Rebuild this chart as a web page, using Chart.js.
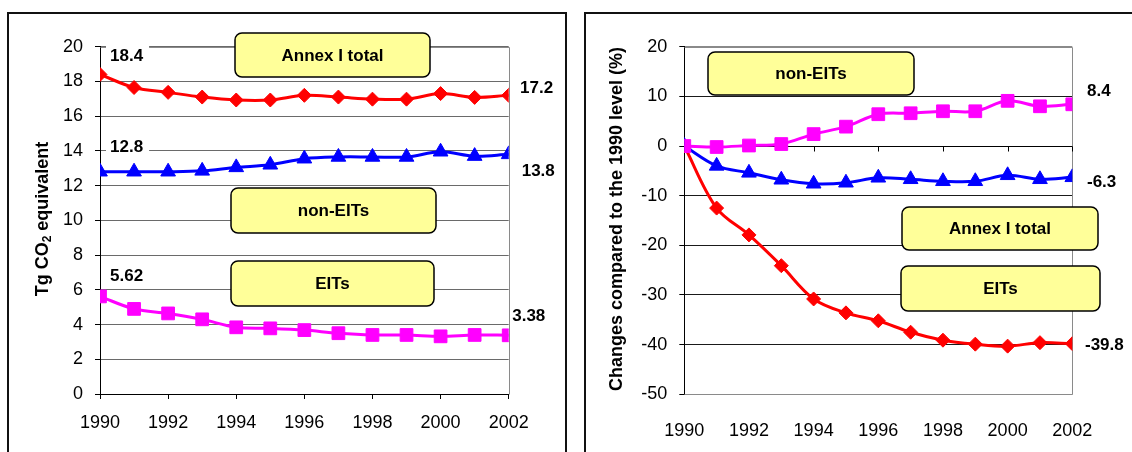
<!DOCTYPE html>
<html>
<head>
<meta charset="utf-8">
<script src="https://cdn.jsdelivr.net/npm/chart.js@4.4.0/dist/chart.umd.min.js"></script>
<style>
  html, body { margin: 0; padding: 0; background: #fff; overflow: hidden; width: 1132px; height: 452px; }
  #wrap { position: relative; width: 1132px; height: 452px; }
  canvas { position: absolute; top: 0; }
  #absChart { left: 0; }
  #relChart { left: 575px; }
  .frame { position: absolute; border: 2px solid #111; box-sizing: border-box; pointer-events: none; }
</style>
</head>
<body>
<div id="wrap">
  <canvas id="absChart" width="575" height="452" style="width:575px;height:452px"></canvas>
  <canvas id="relChart" width="557" height="452" style="width:557px;height:452px"></canvas>
  <div class="frame" style="left:7px;top:12px;width:560px;height:470px"></div>
  <div class="frame" style="left:584px;top:12px;width:600px;height:470px"></div>
</div>
<script>
// Years on the horizontal axis
const years = [1990, 1991, 1992, 1993, 1994, 1995, 1996, 1997, 1998, 1999, 2000, 2001, 2002];

// Emissions, Tg CO2 equivalent
const annexTotalTg = [18.4, 17.65, 17.37, 17.1, 16.93, 16.93, 17.2, 17.1, 16.98, 16.98, 17.3, 17.08, 17.2];
const nonEitTg     = [12.8, 12.8, 12.8, 12.85, 13.05, 13.2, 13.55, 13.65, 13.65, 13.65, 13.95, 13.7, 13.8];
const eitTg        = [5.62, 4.9, 4.64, 4.3, 3.84, 3.78, 3.68, 3.5, 3.4, 3.4, 3.32, 3.4, 3.38];

// Changes compared to 1990, %
const nonEitPct     = [0, -0.2, 0.1, 0.4, 2.4, 3.9, 6.4, 6.6, 7.0, 7.0, 9.1, 8.0, 8.4];
const annexTotalPct = [0, -4.0, -5.4, -6.8, -7.6, -7.4, -6.4, -6.7, -7.1, -7.1, -5.9, -6.7, -6.3];
const eitPct        = [0, -12.5, -17.9, -24.1, -30.8, -33.6, -35.2, -37.5, -39.1, -39.9, -40.3, -39.6, -39.8];

// Series names shown in the callout boxes
const seriesNames = { annex: 'Annex I total', nonEit: 'non-EITs', eit: 'EITs' };

const FONT = '"Liberation Sans", Arial, sans-serif';
const RED = '#ff0000', BLUE = '#0000ff', MAGENTA = '#ff00ff';

const toPoints = vals => vals.map((v, i) => ({ x: years[i], y: v }));

function lineSet(label, vals, color, style, radius) {
  return {
    label, data: toPoints(vals),
    borderColor: color, backgroundColor: color,
    borderWidth: 3, tension: 0.35,
    pointStyle: style, pointRadius: radius, pointHoverRadius: radius,
    pointBackgroundColor: color, pointBorderColor: color, pointBorderWidth: 1
  };
}

function roundRect(ctx, x, y, w, h, r) {
  ctx.beginPath();
  ctx.moveTo(x + r, y);
  ctx.arcTo(x + w, y, x + w, y + h, r);
  ctx.arcTo(x + w, y + h, x, y + h, r);
  ctx.arcTo(x, y + h, x, y, r);
  ctx.arcTo(x, y, x + w, y, r);
  ctx.closePath();
}

// Grey plot-area frame, yellow callouts and end-point value labels
const decorations = {
  id: 'decorations',
  beforeDatasetsDraw(chart, args, opts) {
    const ctx = chart.ctx, a = chart.chartArea;
    ctx.save();
    // frame on the open sides of the plot area
    ctx.strokeStyle = '#8a8a8a';
    ctx.lineWidth = 1;
    ctx.beginPath();
    const L = Math.round(a.left) + 0.5, R = Math.round(a.right) + 0.5;
    const T = Math.round(a.top) + 0.5, B = Math.round(a.bottom) + 0.5;
    ctx.moveTo(L, T); ctx.lineTo(R, T); ctx.lineTo(R, B);
    if (opts.frameBottom) ctx.lineTo(L, B);
    ctx.stroke();

    // zero line with year ticks
    if (opts.zeroAxis) {
      const y0 = Math.round(chart.scales.y.getPixelForValue(0)) + 0.5;
      ctx.strokeStyle = '#000';
      ctx.beginPath();
      ctx.moveTo(a.left, y0); ctx.lineTo(a.right, y0);
      chart.scales.x.ticks.forEach(t => {
        const x = Math.round(chart.scales.x.getPixelForValue(t.value)) + 0.5;
        ctx.moveTo(x, y0); ctx.lineTo(x, y0 + 5);
      });
      ctx.stroke();
    }

    // value labels
    ctx.font = 'bold 17px ' + FONT;
    ctx.textBaseline = 'middle';
    ctx.textAlign = 'left';
    (opts.labels || []).forEach(l => {
      const el = chart.getDatasetMeta(l.ds).data[l.idx];
      const v = chart.data.datasets[l.ds].data[l.idx].y;
      const txt = String(v);
      const x = el.x + l.dx, y = el.y + l.dy;
      const w = ctx.measureText(txt).width;
      if (l.bg) {
        ctx.fillStyle = '#fff';
        ctx.fillRect(x - 4, y - 11, w + 10, 22);
      }
      ctx.fillStyle = '#000';
      ctx.fillText(txt, x, y + 1);
    });

    // callout boxes
    (opts.callouts || []).forEach(c => {
      roundRect(ctx, c.x, c.y, c.w, c.h, 7);
      ctx.fillStyle = '#ffff99';
      ctx.fill();
      ctx.strokeStyle = '#000';
      ctx.lineWidth = 1.5;
      ctx.stroke();
      ctx.fillStyle = '#000';
      ctx.textAlign = 'center';
      ctx.fillText(c.text, c.x + c.w / 2, c.y + c.h / 2 + 1);
    });
    ctx.restore();
  },
  afterDraw(chart, args, opts) {
    const t = opts.yTitle;
    if (!t) return;
    const ctx = chart.ctx;
    ctx.save();
    ctx.translate(t.x, t.y);
    ctx.rotate(-Math.PI / 2);
    ctx.fillStyle = '#000';
    ctx.textBaseline = 'middle';
    ctx.textAlign = 'left';
    const big = 'bold 18px ' + FONT, small = 'bold 12px ' + FONT;
    let total = 0;
    t.parts.forEach(p => { ctx.font = p.sub ? small : big; total += ctx.measureText(p.text).width; });
    let x = -total / 2;
    t.parts.forEach(p => {
      ctx.font = p.sub ? small : big;
      ctx.fillText(p.text, x, p.sub ? 5 : 0);
      x += ctx.measureText(p.text).width;
    });
    ctx.restore();
  }
};

const tickFont = { family: FONT, size: 18 };

// Absolute emissions
new Chart(document.getElementById('absChart'), {
  type: 'line',
  data: {
    datasets: [
      lineSet(seriesNames.annex, annexTotalTg, RED, 'rectRot', 7),
      lineSet(seriesNames.nonEit, nonEitTg, BLUE, 'triangle', 8.5),
      lineSet(seriesNames.eit, eitTg, MAGENTA, 'rect', 9)
    ]
  },
  options: {
    responsive: false, animation: false, devicePixelRatio: 1,
    layout: { padding: { left: 0, right: 66.3, top: 46.7, bottom: 0 } },
    scales: {
      x: {
        type: 'linear', min: 1990, max: 2002,
        afterFit: s => { s.height = 58; },
        ticks: { stepSize: 2, callback: v => String(v), font: tickFont, color: '#000', padding: 13, maxRotation: 0 },
        grid: { drawOnChartArea: false, tickLength: 5, color: '#000' },
        border: { color: '#000', width: 1 }
      },
      y: {
        min: 0, max: 20,
        afterFit: s => { s.width = 100; },
        ticks: { stepSize: 2, font: tickFont, color: '#000', padding: 12 },
        grid: { color: '#6a6a6a', tickColor: '#000', tickLength: 5 },
        border: { color: '#000', width: 1 }
      }
    },
    plugins: {
      legend: { display: false }, tooltip: { enabled: false },
      decorations: {
        labels: [
          { ds: 0, idx: 0, dx: 10, dy: -19.5, bg: true },
          { ds: 1, idx: 0, dx: 10, dy: -25.7, bg: true },
          { ds: 2, idx: 0, dx: 10, dy: -21.4, bg: true },
          { ds: 0, idx: 12, dx: 11.3, dy: -8.5 },
          { ds: 1, idx: 12, dx: 13, dy: 15.7 },
          { ds: 2, idx: 12, dx: 3.5, dy: -20.3 }
        ],
        callouts: [
          { text: seriesNames.annex, x: 235, y: 33, w: 195, h: 44 },
          { text: seriesNames.nonEit, x: 231, y: 188, w: 205, h: 45 },
          { text: seriesNames.eit, x: 231, y: 261, w: 203, h: 45 }
        ],
        yTitle: { x: 43, y: 219, parts: [{ text: 'Tg CO' }, { text: '2', sub: true }, { text: ' equivalent' }] }
      }
    }
  },
  plugins: [decorations]
});

// Percentage change relative to 1990
new Chart(document.getElementById('relChart'), {
  type: 'line',
  data: {
    datasets: [
      lineSet(seriesNames.nonEit, nonEitPct, MAGENTA, 'rect', 9),
      lineSet(seriesNames.annex, annexTotalPct, BLUE, 'triangle', 8.5),
      lineSet(seriesNames.eit, eitPct, RED, 'rectRot', 7)
    ]
  },
  options: {
    responsive: false, animation: false, devicePixelRatio: 1,
    layout: { padding: { left: 0, right: 59.7, top: 46.7, bottom: 0 } },
    scales: {
      x: {
        type: 'linear', min: 1990, max: 2002,
        afterFit: s => { s.height = 57.7; },
        ticks: { stepSize: 2, callback: v => String(v), font: tickFont, color: '#000', padding: 18, maxRotation: 0 },
        grid: { display: false },
        border: { display: false }
      },
      y: {
        min: -50, max: 20,
        afterFit: s => { s.width = 109.3; },
        ticks: { stepSize: 10, font: tickFont, color: '#000', padding: 12 },
        grid: {
          color: c => (c.tick && (c.tick.value === 20 || c.tick.value === -50)) ? '#8a8a8a' : '#1a1a1a',
          tickColor: '#000', tickLength: 5
        },
        border: { color: '#000', width: 1 }
      }
    },
    plugins: {
      legend: { display: false }, tooltip: { enabled: false },
      decorations: {
        frameBottom: true,
        zeroAxis: true,
        labels: [
          { ds: 0, idx: 12, dx: 14.7, dy: -14.3 },
          { ds: 1, idx: 12, dx: 14.7, dy: 4.4 },
          { ds: 2, idx: 12, dx: 12.7, dy: 0.4 }
        ],
        callouts: [
          { text: seriesNames.nonEit, x: 133, y: 52, w: 206, h: 43 },
          { text: seriesNames.annex, x: 327, y: 207, w: 196, h: 43 },
          { text: seriesNames.eit, x: 326, y: 266, w: 199, h: 45 }
        ],
        yTitle: { x: 42, y: 219, parts: [{ text: 'Changes compared to the 1990 level (%)' }] }
      }
    }
  },
  plugins: [decorations]
});
</script>
</body>
</html>
